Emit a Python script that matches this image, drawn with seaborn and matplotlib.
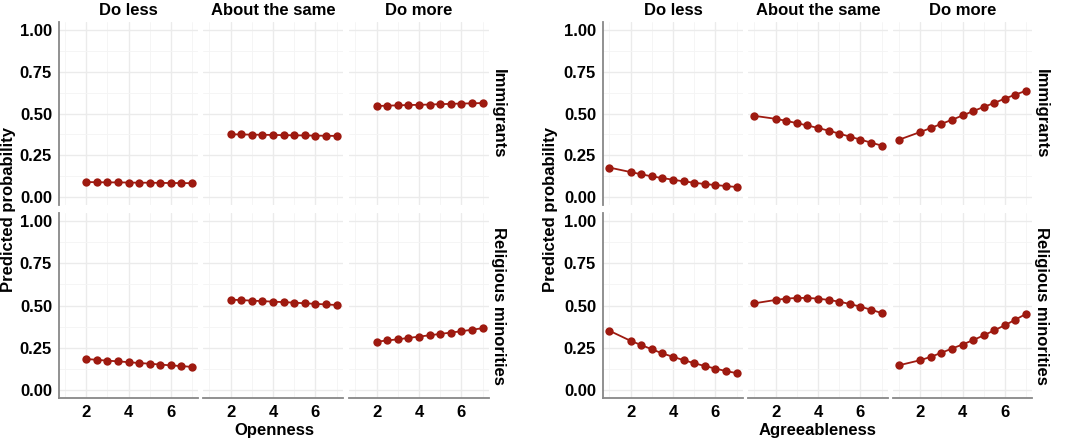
import numpy as np
import pandas as pd
import matplotlib
matplotlib.use("Agg")
import matplotlib.pyplot as plt
import seaborn as sns

# values
responses = ["Do less", "About the same", "Do more"]
groups = ["Immigrants", "Religious minorities"]

open_x = [2, 2.5, 3, 3.5, 4, 4.5, 5, 5.5, 6, 6.5, 7]
open_imm_less = [0.088, 0.087, 0.086, 0.086, 0.085, 0.084, 0.084, 0.083, 0.082, 0.082, 0.081]
open_imm_same = [0.375, 0.374, 0.373, 0.372, 0.371, 0.370, 0.369, 0.368, 0.367, 0.366, 0.365]
open_imm_more = [0.545, 0.547, 0.549, 0.551, 0.552, 0.554, 0.556, 0.558, 0.560, 0.561, 0.563]
open_rel_less = [0.182, 0.177, 0.172, 0.168, 0.163, 0.158, 0.154, 0.149, 0.144, 0.140, 0.135]
open_rel_same = [0.535, 0.532, 0.529, 0.526, 0.523, 0.520, 0.517, 0.513, 0.510, 0.506, 0.503]
open_rel_more = [0.285, 0.292, 0.299, 0.307, 0.315, 0.323, 0.331, 0.339, 0.347, 0.356, 0.365]

agree_x = [1, 2, 2.5, 3, 3.5, 4, 4.5, 5, 5.5, 6, 6.5, 7]
agree_imm_less = [0.175, 0.148, 0.135, 0.122, 0.112, 0.102, 0.092, 0.084, 0.076, 0.070, 0.064, 0.058]
agree_imm_same = [0.486, 0.468, 0.456, 0.442, 0.428, 0.413, 0.397, 0.379, 0.361, 0.343, 0.325, 0.307]
agree_imm_more = [0.343, 0.389, 0.413, 0.438, 0.462, 0.488, 0.514, 0.539, 0.563, 0.589, 0.613, 0.636]
agree_rel_less = [0.350, 0.290, 0.265, 0.240, 0.215, 0.195, 0.175, 0.157, 0.140, 0.125, 0.110, 0.098]
agree_rel_same = [0.513, 0.533, 0.541, 0.545, 0.545, 0.541, 0.533, 0.523, 0.509, 0.493, 0.475, 0.455]
agree_rel_more = [0.145, 0.175, 0.195, 0.219, 0.244, 0.268, 0.294, 0.322, 0.352, 0.382, 0.415, 0.449]

y_ticks = [0, 0.25, 0.5, 0.75, 1.0]
y_ticklabels = ["0.00", "0.25", "0.50", "0.75", "1.00"]
x_ticks = [2, 4, 6]


def make_df(x, series):
    rows = []
    for (grp, resp), vals in series.items():
        for xi, v in zip(x, vals):
            rows.append({"x": xi, "p": v, "group": grp, "response": resp})
    return pd.DataFrame(rows)


open_df = make_df(open_x, {
    ("Immigrants", "Do less"): open_imm_less,
    ("Immigrants", "About the same"): open_imm_same,
    ("Immigrants", "Do more"): open_imm_more,
    ("Religious minorities", "Do less"): open_rel_less,
    ("Religious minorities", "About the same"): open_rel_same,
    ("Religious minorities", "Do more"): open_rel_more,
})
agree_df = make_df(agree_x, {
    ("Immigrants", "Do less"): agree_imm_less,
    ("Immigrants", "About the same"): agree_imm_same,
    ("Immigrants", "Do more"): agree_imm_more,
    ("Religious minorities", "Do less"): agree_rel_less,
    ("Religious minorities", "About the same"): agree_rel_same,
    ("Religious minorities", "Do more"): agree_rel_more,
})

sns.set_theme(style="white")
plt.rcParams["font.family"] = ["Liberation Sans", "DejaVu Sans"]
plt.rcParams["font.weight"] = "bold"
plt.rcParams["text.color"] = "black"
plt.rcParams["axes.labelcolor"] = "black"
plt.rcParams["xtick.color"] = "black"
plt.rcParams["ytick.color"] = "black"

W, H = 1072, 442
fig = plt.figure(figsize=(W / 100, H / 100), dpi=100)
fig.patch.set_facecolor("white")

red = "#9E1A10"
fs = 12
cols_left = [(59, 198), (203, 343), (349, 489)]
cols_right = [(603, 743), (748, 888), (893, 1032)]
rows_px = [(22, 205), (213, 398)]


def draw_block(df, cols, xlabel, ylab_x):
    for r, grp in enumerate(groups):
        for c, resp in enumerate(responses):
            x0, x1 = cols[c]
            y0, y1 = rows_px[r]
            ax = fig.add_axes([x0 / W, 1 - y1 / H, (x1 - x0) / W, (y1 - y0) / H])
            sub = df[(df.group == grp) & (df.response == resp)]
            sns.lineplot(data=sub, x="x", y="p", ax=ax, color=red, lw=1.3,
                         marker="o", markersize=6, markeredgewidth=0, zorder=3)
            ax.set_xlim(0.7, 7.3)
            ax.set_ylim(-0.05, 1.05)
            ax.set_xticks(x_ticks)
            ax.set_xticks([1, 3, 5, 7], minor=True)
            ax.set_yticks(y_ticks)
            ax.set_yticks([0.125, 0.375, 0.625, 0.875], minor=True)
            ax.grid(which="major", color="#EBEBEB", lw=1.0)
            ax.grid(which="minor", color="#F4F4F4", lw=0.6)
            ax.set_axisbelow(True)
            ax.set_xlabel("")
            ax.set_ylabel("")
            for s in ax.spines.values():
                s.set_visible(False)
            ax.tick_params(which="both", length=0, labelsize=fs, colors="black", pad=5)
            if c == 0:
                ax.spines["left"].set_visible(True)
                ax.spines["left"].set_color("#888888")
                ax.spines["left"].set_linewidth(1.3)
                ax.set_yticklabels(y_ticklabels, fontweight="bold")
            else:
                ax.set_yticklabels([])
            if r == 1:
                ax.spines["bottom"].set_visible(True)
                ax.spines["bottom"].set_color("#888888")
                ax.spines["bottom"].set_linewidth(1.3)
                ax.set_xticklabels([str(t) for t in x_ticks], fontweight="bold")
            else:
                ax.set_xticklabels([])
            if r == 0:
                ax.set_title(resp, fontsize=fs, fontweight="bold", pad=5, color="black")
            if c == 2:
                ax.annotate(grp, xy=(1, 0.5), xycoords="axes fraction",
                            xytext=(1.5, 0), textcoords="offset points",
                            rotation=-90, ha="left", va="center",
                            fontsize=fs, fontweight="bold", color="black")
    xc = (cols[0][0] + cols[2][1]) / 2
    fig.text(xc / W, 1 - 431 / H, xlabel, ha="center", va="center",
             fontsize=fs, fontweight="bold", color="black")
    fig.text(ylab_x / W, 1 - 210 / H, "Predicted probability", rotation=90,
             ha="center", va="center", fontsize=fs, fontweight="bold", color="black")


draw_block(open_df, cols_left, "Openness", 9)
draw_block(agree_df, cols_right, "Agreeableness", 551)

fig.savefig("out.png", dpi=100, facecolor="white")
